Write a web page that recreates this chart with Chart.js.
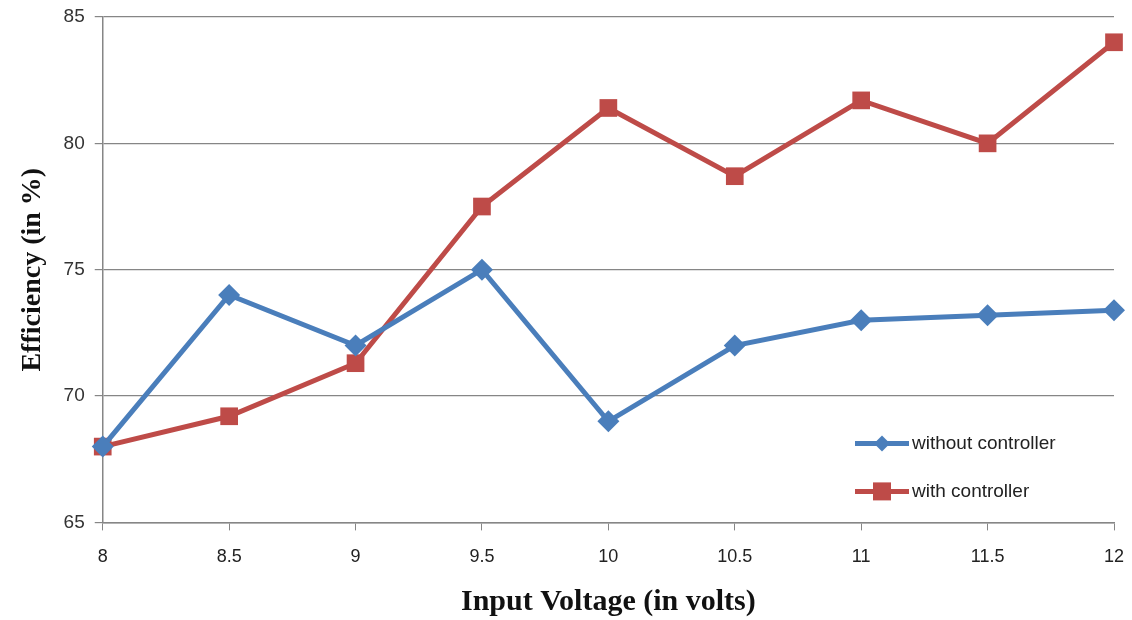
<!DOCTYPE html>
<html>
<head>
<meta charset="utf-8">
<script src="https://cdn.jsdelivr.net/npm/chart.js@4.4.0/dist/chart.umd.min.js"></script>
<style>
  html, body { margin: 0; padding: 0; background: #fff; overflow: hidden; }
  #wrap { width: 1132px; height: 620px; }
  canvas { display: block; }
</style>
</head>
<body>
<div id="wrap"><canvas id="effChart"></canvas></div>
<script>
const voltages = ["8", "8.5", "9", "9.5", "10", "10.5", "11", "11.5", "12"];
const withoutController = [68, 74, 72, 75, 69, 72, 73, 73.2, 73.4];
const withController = [68, 69.2, 71.3, 77.5, 81.4, 78.7, 81.7, 80, 84];

// legend drawn inside the plot, bottom right
const innerLegend = {
    id: 'innerLegend',
    afterDraw(chart) {
        const c = chart.ctx;
        const area = chart.chartArea;
        const x0 = area.right - 259;
        const rows = [area.bottom - 79, area.bottom - 31];
        chart.data.datasets.forEach((ds, i) => {
            const y = rows[i];
            c.save();
            c.strokeStyle = ds.borderColor;
            c.lineWidth = 5;
            c.beginPath();
            c.moveTo(x0, y);
            c.lineTo(x0 + 54, y);
            c.stroke();
            c.fillStyle = ds.borderColor;
            const mx = x0 + 27;
            if (ds.pointStyle === 'rectRot') {
                c.beginPath();
                c.moveTo(mx, y - 8);
                c.lineTo(mx + 8, y);
                c.lineTo(mx, y + 8);
                c.lineTo(mx - 8, y);
                c.closePath();
                c.fill();
            } else {
                c.fillRect(mx - 9, y - 9, 18, 18);
            }
            c.fillStyle = '#222';
            c.font = '19px "Liberation Sans", sans-serif';
            c.textBaseline = 'middle';
            c.fillText(ds.label, x0 + 57, y);
            c.restore();
        });
    }
};

const ctx = document.getElementById('effChart').getContext('2d');

const effChart = new Chart(ctx, {
    type: 'line',
    data: {
        labels: voltages,
        datasets: [
            {
                label: 'without controller',
                data: withoutController,
                borderColor: '#4A7EBB',
                backgroundColor: '#4A7EBB',
                borderWidth: 5,
                pointStyle: 'rectRot',
                pointRadius: 11,
                pointBorderWidth: 0,
                fill: false,
                tension: 0,
                clip: false
            },
            {
                label: 'with controller',
                data: withController,
                borderColor: '#BE4B48',
                backgroundColor: '#BE4B48',
                borderWidth: 5,
                pointStyle: 'rect',
                pointRadius: 12.5,
                pointBorderWidth: 0,
                fill: false,
                tension: 0,
                clip: false
            }
        ]
    },
    options: {
        responsive: true,
        maintainAspectRatio: false,
        animation: false,
        layout: {
            autoPadding: false,
            padding: { top: 17, right: 18, left: 12, bottom: 0 }
        },
        plugins: {
            legend: { display: false },
            tooltip: { enabled: false }
        },
        scales: {
            x: {
                offset: false,
                afterFit(scale) {
                    scale.paddingRight = 0;
                    scale.paddingLeft = 0;
                },
                grid: {
                    drawOnChartArea: false,
                    color: '#868686',
                    tickLength: 8
                },
                border: { color: '#868686', width: 1.5 },
                ticks: {
                    color: '#222',
                    font: { family: '"Liberation Sans Narrow", "Liberation Sans", sans-serif', size: 18 },
                    padding: 16,
                    maxRotation: 0
                },
                title: {
                    display: true,
                    text: 'Input Voltage (in volts)',
                    color: '#111',
                    font: { family: '"Liberation Serif", serif', size: 30, weight: 'bold' },
                    padding: { top: 0, bottom: 0 }
                }
            },
            y: {
                min: 65,
                max: 85,
                afterFit(scale) {
                    scale.paddingTop = 0;
                    scale.paddingBottom = 0;
                },
                grid: {
                    color: '#868686',
                    lineWidth: 1.2,
                    tickLength: 8
                },
                border: { color: '#868686', width: 1.5 },
                ticks: {
                    stepSize: 5,
                    color: '#333',
                    font: { family: '"Liberation Sans", sans-serif', size: 19 },
                    padding: 10
                },
                title: {
                    display: true,
                    text: 'Efficiency (in %)',
                    color: '#111',
                    font: { family: '"Liberation Serif", serif', size: 28, weight: 'bold' },
                    padding: { bottom: 4 }
                }
            }
        }
    },
    plugins: [innerLegend]
});
</script>
</body>
</html>
